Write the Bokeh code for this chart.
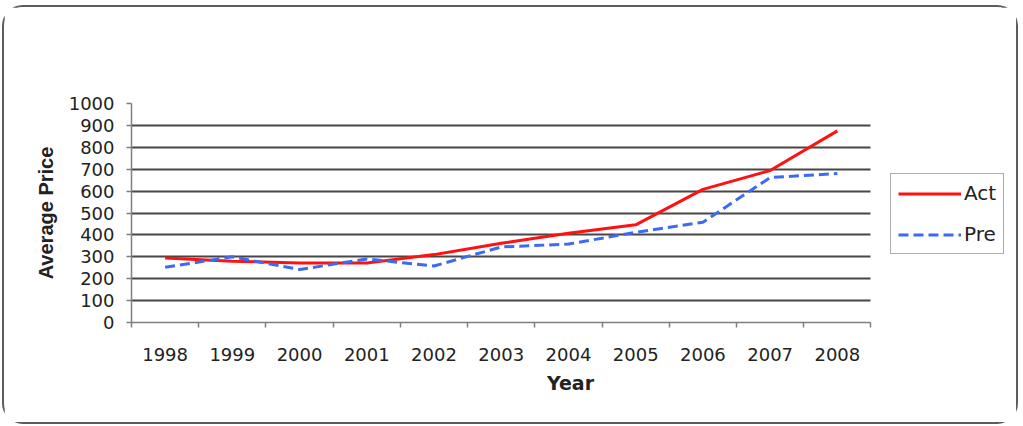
from bokeh.plotting import figure
from bokeh.models import (Range1d, FixedTicker, LinearAxis, Legend, LegendItem,
                          ColumnDataSource, Grid)
from bokeh.embed import file_html
from bokeh.resources import INLINE

# Yearly average price: actual vs predicted
years = ["1998", "1999", "2000", "2001", "2002", "2003", "2004", "2005", "2006", "2007", "2008"]
actual = [295, 280, 272, 272, 310, 362, 408, 446, 608, 694, 875]
predicted = [252, 300, 242, 290, 258, 345, 358, 412, 458, 662, 680]
y_ticks = [0, 100, 200, 300, 400, 500, 600, 700, 800, 900, 1000]

# each year sits in the middle of its own slot on the x axis
n = len(years)
slot_pos = [i + 0.5 for i in range(n)]
slot_edges = list(range(n + 1))
src = ColumnDataSource(dict(x=slot_pos, act=actual, pre=predicted))

FONT = "DejaVu Sans"
BOLD_FONT = "Liberation Sans"
TEXT_COLOR = "#222222"
AXIS_COLOR = "#7f7f7f"

# the frame runs on past the last year to leave room for the legend
p = figure(width=1016, height=419, output_backend="svg", toolbar_location=None,
           x_range=Range1d(0, n * 1.1873), y_range=Range1d(0, 1000),
           min_border_left=127, min_border_right=11, min_border_top=96,
           min_border_bottom=104, x_axis_type=None, y_axis_type=None)
# rounded chart frame around the whole canvas
p.styles = {"border": "2px solid #5c5c5c", "border-radius": "21px",
            "margin": "5px 0 0 2px"}
p.outline_line_color = None
p.background_fill_color = "white"
p.border_fill_color = "white"

# y axis with value ticks
yaxis = LinearAxis(ticker=FixedTicker(ticks=y_ticks), axis_label="Average Price")
yaxis.axis_line_color = AXIS_COLOR
yaxis.axis_line_width = 1.5
yaxis.major_tick_line_color = AXIS_COLOR
yaxis.major_tick_line_width = 1.5
yaxis.major_tick_in = 0
yaxis.major_tick_out = 5
yaxis.minor_tick_line_color = None
yaxis.major_label_standoff = 12
yaxis.major_label_text_font = FONT
yaxis.major_label_text_font_size = "18px"
yaxis.major_label_text_color = TEXT_COLOR
yaxis.axis_label_text_font = BOLD_FONT
yaxis.axis_label_text_font_size = "20px"
yaxis.axis_label_text_font_style = "bold"
yaxis.axis_label_text_color = TEXT_COLOR
yaxis.axis_label_standoff = 9
p.add_layout(yaxis, "left")

# x axis: tick marks on slot boundaries, year labels on slot centres
xticks_axis = LinearAxis(ticker=FixedTicker(ticks=slot_edges), bounds=(0, n))
xticks_axis.major_label_overrides = {e: "" for e in slot_edges}
xticks_axis.axis_line_color = AXIS_COLOR
xticks_axis.axis_line_width = 1.5
xticks_axis.major_tick_line_color = AXIS_COLOR
xticks_axis.major_tick_line_width = 1.5
xticks_axis.major_tick_in = 0
xticks_axis.major_tick_out = 5
xticks_axis.minor_tick_line_color = None
xticks_axis.major_label_text_font_size = "1px"
xticks_axis.major_label_standoff = 0
p.add_layout(xticks_axis, "below")

xlab_axis = LinearAxis(ticker=FixedTicker(ticks=slot_pos), axis_label="Year",
                       bounds=(0, n))
xlab_axis.major_label_overrides = {pos: yr for pos, yr in zip(slot_pos, years)}
xlab_axis.axis_line_color = None
xlab_axis.major_tick_line_color = None
xlab_axis.minor_tick_line_color = None
xlab_axis.major_label_standoff = 14
xlab_axis.major_label_text_font = FONT
xlab_axis.major_label_text_font_size = "18px"
xlab_axis.major_label_text_color = TEXT_COLOR
xlab_axis.axis_label_text_font = FONT
xlab_axis.axis_label_text_font_size = "19px"
xlab_axis.axis_label_text_font_style = "bold"
xlab_axis.axis_label_text_color = TEXT_COLOR
xlab_axis.axis_label_standoff = 8
p.add_layout(xlab_axis, "below")

# horizontal gridlines over the year slots only
grid = Grid(dimension=1, ticker=FixedTicker(ticks=y_ticks[1:-1]),
            cross_bounds=(0, n))
grid.grid_line_color = "#474747"
grid.grid_line_width = 1.8
p.add_layout(grid)

r_act = p.line("x", "act", source=src, line_color="#ff1111", line_width=3)
r_pre = p.line("x", "pre", source=src, line_color="#3d6af2", line_width=3,
               line_dash="10 5")

legend = Legend(items=[LegendItem(label="Act", renderers=[r_act]),
                       LegendItem(label="Pre", renderers=[r_pre])],
                location=(759, 68))
legend.border_line_color = "#5a5a5a"
legend.border_line_width = 1.8
legend.background_fill_color = "white"
legend.label_text_font = FONT
legend.label_text_font_size = "20px"
legend.label_text_color = TEXT_COLOR
legend.glyph_width = 63
legend.glyph_height = 21
legend.label_height = 21
legend.label_standoff = 3
legend.spacing = 17
legend.padding = 7
legend.margin = 0
p.add_layout(legend, "center")

open("out.html", "w").write(file_html(p, INLINE))
